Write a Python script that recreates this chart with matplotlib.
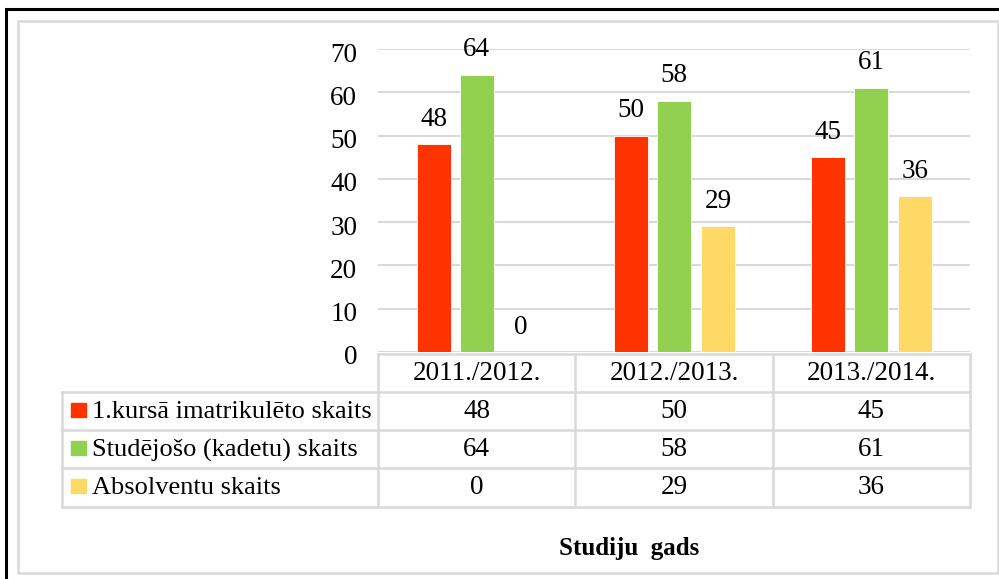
import matplotlib.pyplot as plt
from matplotlib.patches import Rectangle
from matplotlib.transforms import blended_transform_factory, ScaledTranslation

# data
years = ['2011./2012.', '2012./2013.', '2013./2014.']
series_names = ['1.kursā imatrikulēto skaits', 'Studējošo (kadetu) skaits', 'Absolventu skaits']
imatrikuleti = [48, 50, 45]
studejosi = [64, 58, 61]
absolventi = [0, 29, 36]
series = [imatrikuleti, studejosi, absolventi]
colors = ['#FF3300', '#92D050', '#FFD966']

W, H = 999, 579
plt.rcParams['font.family'] = ['Liberation Serif', 'DejaVu Serif']
FS = 19.5
grid_col = '#D9D9D9'


def fx(px):
    return px / W


def fy(py):
    return 1 - py / H


fig = plt.figure(figsize=(W / 100, H / 100), dpi=100)

# frames
fig.patches.append(Rectangle((fx(6), fy(590)), fx(1010) - fx(6), fy(9) - fy(590),
                             transform=fig.transFigure, fill=False, ec='black', lw=2.2))
fig.patches.append(Rectangle((fx(18), fy(573)), fx(998) - fx(18), fy(21) - fy(573),
                             transform=fig.transFigure, fill=False, ec=grid_col, lw=1.8))

ax = fig.add_axes([fx(378), fy(352), fx(970) - fx(378), fy(49) - fy(352)])
ax.set_xlim(-0.5, 2.5)
ax.set_ylim(0, 70)

width = 0.172
offsets = [-0.218, 0.0, 0.223]
x = list(range(len(years)))
for vals, off, col in zip(series, offsets, colors):
    xs = [i + off for i in x]
    ax.bar(xs, vals, width=width, color=col, edgecolor='white', linewidth=0.6, zorder=3)
    for xi, v in zip(xs, vals):
        ax.annotate(str(v), (xi, v), xytext=(0, 25), textcoords='offset pixels',
                    ha='center', va='center', fontsize=FS)

ax.set_yticks(range(0, 80, 10))
ax.yaxis.grid(True, color=grid_col, lw=1.5, zorder=0)
ax.set_xticks([])
ax.tick_params(axis='y', length=0, pad=15, labelsize=FS)
for lab in ax.get_yticklabels():
    lab.set_transform(lab.get_transform() + ScaledTranslation(0, -3 / 100, fig.dpi_scale_trans))
for s in ax.spines.values():
    s.set_visible(False)

# data table below the chart
trans = blended_transform_factory(ax.transData, fig.transFigure)
edges = [-0.5, 0.5, 1.5, 2.5]
row_lines = [392, 430, 468, 507]
row_centers = [411, 449, 487]
kw = dict(color=grid_col, lw=1.8, clip_on=False, solid_capstyle='projecting')

ax.plot([edges[0], edges[-1]], [fy(354), fy(354)], transform=trans, **kw)
for e in edges:
    ax.plot([e, e], [fy(354), fy(507)], transform=trans, **kw)
for r in row_lines:
    fig.add_artist(plt.Line2D([fx(62), fx(970)], [fy(r), fy(r)], transform=fig.transFigure,
                              color=grid_col, lw=1.8))
fig.add_artist(plt.Line2D([fx(62), fx(62)], [fy(392), fy(507)], transform=fig.transFigure,
                          color=grid_col, lw=1.8))

for i, yr in enumerate(years):
    ax.text(i, fy(374), yr, transform=trans, ha='center', va='center', fontsize=FS)
for vals, name, col, rc in zip(series, series_names, colors, row_centers):
    for i, v in enumerate(vals):
        ax.text(i, fy(rc + 1), str(v), transform=trans, ha='center', va='center', fontsize=FS)
    fig.patches.append(Rectangle((fx(71), fy(rc + 6)), fx(86) - fx(71), fy(rc - 8) - fy(rc + 6),
                                 transform=fig.transFigure, color=col))
    fig.text(fx(92), fy(rc + 1), name, ha='left', va='center', fontsize=19)

fig.text(fx(629), fy(548), 'Studiju  gads', ha='center', va='center', fontsize=18, fontweight='bold')

fig.savefig('out.png', dpi=100)
